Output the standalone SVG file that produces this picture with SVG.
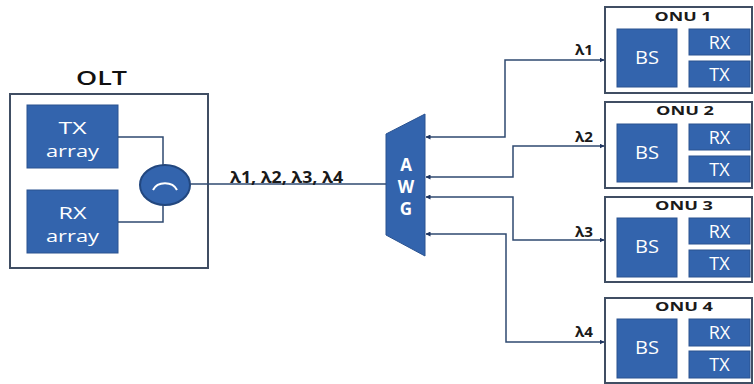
<svg xmlns="http://www.w3.org/2000/svg" width="754" height="384" viewBox="0 0 754 384">
<defs>
<style>
.blk{fill:#3364AD;stroke:#2A5290;stroke-width:1}
.box{fill:#fff;stroke:#404E63;stroke-width:2}
.wt{fill:#fff;font-family:"Open Sans","Liberation Sans",sans-serif;text-anchor:middle}
.lbl{fill:#1a1a1a;font-family:"Open Sans","Liberation Sans",sans-serif;font-weight:bold}
.onu{fill:#1a1a1a;font-family:"Open Sans","Liberation Sans",sans-serif;font-weight:bold;font-size:13px;text-anchor:middle}
.ln{fill:none;stroke:#2F4A70;stroke-width:1.5}
</style>
<marker id="ah" viewBox="0 0 10 10" refX="9" refY="5" markerWidth="5" markerHeight="5" orient="auto-start-reverse" markerUnits="userSpaceOnUse">
<path d="M0,0 L10,5 L0,10 z" fill="#1F3560"/>
</marker>
</defs>
<rect width="754" height="384" fill="#fff"/>

<g id="olt">
<text x="76" y="85" textLength="51" lengthAdjust="spacingAndGlyphs" style="fill:#111;font-family:'Open Sans','Liberation Sans',sans-serif;font-weight:600;font-size:19px">OLT</text>
<rect x="10" y="94" width="198" height="174" class="box"/>
</g>
<g id="tx-array">
<rect x="27" y="105" width="91" height="63" class="blk"/>
<text x="72.5" y="134" class="wt" font-size="17" textLength="28" lengthAdjust="spacingAndGlyphs">TX</text>
<text x="72.5" y="157" class="wt" font-size="17" textLength="53" lengthAdjust="spacingAndGlyphs">array</text>
</g>
<g id="rx-array">
<rect x="27" y="190" width="91" height="63" class="blk"/>
<text x="72.5" y="219" class="wt" font-size="17" textLength="28" lengthAdjust="spacingAndGlyphs">RX</text>
<text x="72.5" y="242" class="wt" font-size="17" textLength="53" lengthAdjust="spacingAndGlyphs">array</text>
</g>
<g id="circulator">
<ellipse cx="165" cy="185" rx="25" ry="20" class="blk" style="stroke:#22477F;stroke-width:2"/>
<path d="M153,190 A13,11 0 0 1 177,190" fill="none" stroke="#fff" stroke-width="2"/>
</g>

<g id="awg">
<polygon points="386,134 425,114 425,256 386,235" class="blk"/>
<text x="406" y="171" class="wt" font-size="17" font-weight="bold">A</text>
<text x="406" y="193" class="wt" font-size="17" font-weight="bold">W</text>
<text x="406" y="215" class="wt" font-size="17" font-weight="bold">G</text>
</g>

<g id="onu1">
<rect x="605" y="7" width="147" height="86" class="box"/>
<text x="683" y="21" class="onu" textLength="57" lengthAdjust="spacingAndGlyphs">ONU 1</text>
<rect x="617" y="29" width="60" height="58" class="blk"/>
<text x="647" y="64" class="wt" font-size="18" textLength="24" lengthAdjust="spacingAndGlyphs">BS</text>
<rect x="689" y="29" width="61" height="26" class="blk"/>
<text x="719.5" y="49" class="wt" font-size="18">RX</text>
<rect x="689" y="61" width="61" height="26" class="blk"/>
<text x="719.5" y="81" class="wt" font-size="18">TX</text>
</g>
<g id="onu2">
<rect x="605" y="102" width="147" height="86" class="box"/>
<text x="685" y="115" class="onu" textLength="58" lengthAdjust="spacingAndGlyphs">ONU 2</text>
<rect x="617" y="124" width="60" height="58" class="blk"/>
<text x="647" y="159" class="wt" font-size="18" textLength="24" lengthAdjust="spacingAndGlyphs">BS</text>
<rect x="689" y="124" width="61" height="26" class="blk"/>
<text x="719.5" y="144" class="wt" font-size="18">RX</text>
<rect x="689" y="156" width="61" height="26" class="blk"/>
<text x="719.5" y="176" class="wt" font-size="18">TX</text>
</g>
<g id="onu3">
<rect x="605" y="197" width="147" height="85" class="box"/>
<text x="684" y="210" class="onu" textLength="58" lengthAdjust="spacingAndGlyphs">ONU 3</text>
<rect x="617" y="218" width="60" height="59" class="blk"/>
<text x="647" y="253" class="wt" font-size="18" textLength="24" lengthAdjust="spacingAndGlyphs">BS</text>
<rect x="689" y="218" width="61" height="26" class="blk"/>
<text x="719.5" y="238" class="wt" font-size="18">RX</text>
<rect x="689" y="250" width="61" height="27" class="blk"/>
<text x="719.5" y="270" class="wt" font-size="18">TX</text>
</g>
<g id="onu4">
<rect x="605" y="298" width="147" height="85" class="box"/>
<text x="684" y="311" class="onu" textLength="58" lengthAdjust="spacingAndGlyphs">ONU 4</text>
<rect x="617" y="319" width="60" height="59" class="blk"/>
<text x="647" y="354" class="wt" font-size="18" textLength="24" lengthAdjust="spacingAndGlyphs">BS</text>
<rect x="689" y="319" width="61" height="27" class="blk"/>
<text x="719.5" y="339" class="wt" font-size="18">RX</text>
<rect x="689" y="351" width="61" height="27" class="blk"/>
<text x="719.5" y="371" class="wt" font-size="18">TX</text>
</g>

<g id="connectors">
<path class="ln" d="M118,137 H163 V165"/>
<path class="ln" d="M118,222 H163 V205"/>
<path class="ln" d="M190,184 H386"/>
<path class="ln" d="M426,137 H505 V60 H604" marker-start="url(#ah)" marker-end="url(#ah)"/>
<path class="ln" d="M426,177 H513 V146 H604" marker-start="url(#ah)" marker-end="url(#ah)"/>
<path class="ln" d="M426,197 H513 V240 H604" marker-start="url(#ah)" marker-end="url(#ah)"/>
<path class="ln" d="M426,234 H506 V342 H604" marker-start="url(#ah)" marker-end="url(#ah)"/>
<text x="230" y="183" class="lbl" font-size="16" textLength="113" lengthAdjust="spacingAndGlyphs">λ1, λ2, λ3, λ4</text>
<text x="575" y="55" class="lbl" font-size="15" textLength="18" lengthAdjust="spacingAndGlyphs">λ1</text>
<text x="575" y="142" class="lbl" font-size="15" textLength="18" lengthAdjust="spacingAndGlyphs">λ2</text>
<text x="575" y="237" class="lbl" font-size="15" textLength="18" lengthAdjust="spacingAndGlyphs">λ3</text>
<text x="575" y="337" class="lbl" font-size="15" textLength="18" lengthAdjust="spacingAndGlyphs">λ4</text>
</g>
</svg>
